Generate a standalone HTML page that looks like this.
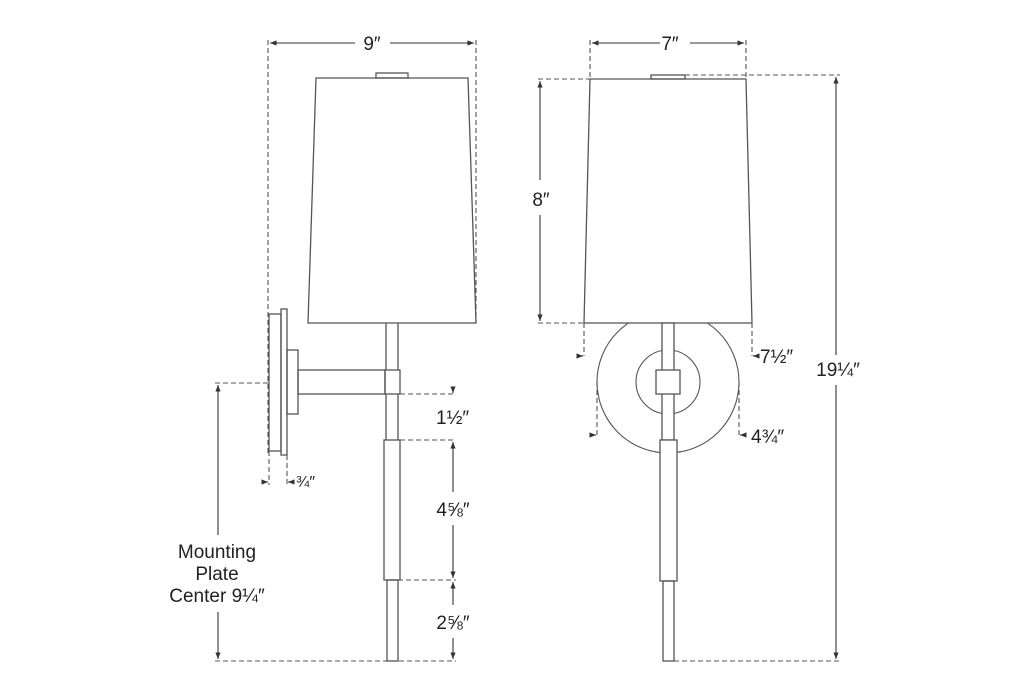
<!DOCTYPE html>
<html><head><meta charset="utf-8"><style>
html,body{margin:0;padding:0;background:#fff;}
svg{display:block;}
text{font-family:"Liberation Sans","DejaVu Sans",sans-serif;fill:#222;}
</style></head><body>
<svg width="1024" height="697" viewBox="0 0 1024 697" xmlns="http://www.w3.org/2000/svg">
<defs>
<marker id="a" viewBox="0 0 10 10" refX="10" refY="5" markerWidth="6" markerHeight="6" orient="auto-start-reverse"><path d="M0,1 L10,5 L0,9 z" fill="#333"/></marker>
</defs>
<g fill="none" stroke="#555" stroke-width="1.3">
<!-- LEFT VIEW -->
<path d="M316,78 L468,78 L476,323 L308,323 Z" fill="#fff"/>
<rect x="376" y="73" width="32" height="5"/>
<rect x="269" y="314" width="12" height="137"/>
<rect x="281" y="309" width="6" height="146"/>
<rect x="287" y="350" width="11" height="64"/>
<rect x="298" y="370" width="87" height="24"/>
<rect x="385" y="370" width="15" height="24"/>
<path d="M386,323 V370 M398,323 V370 M386,394 V440 M398,394 V440"/>
<rect x="384" y="440" width="16" height="140"/>
<rect x="387" y="580" width="11" height="81"/>
<!-- RIGHT VIEW -->
<circle cx="668" cy="382" r="71" stroke-width="1.1"/>
<circle cx="668" cy="382" r="32" stroke-width="1.1"/>
<path d="M590,79 L746,79 L752,323 L584,323 Z" fill="#fff"/>
<rect x="651" y="75" width="34" height="4"/>
<rect x="662" y="323" width="12" height="117" fill="#fff"/>
<rect x="656" y="370" width="24" height="24" fill="#fff"/>
<rect x="660" y="440" width="17" height="141" fill="#fff"/>
<rect x="663" y="581" width="11" height="80"/>
</g>
<g fill="none" stroke="#555" stroke-width="1.1" stroke-dasharray="5,3">
<path d="M268,40 V455 M476,40 V323"/>
<path d="M269,451 V485 M287,455 V485"/>
<path d="M215,383 H269"/>
<path d="M400,394 H456 M400,440 H456 M398,580 H456 M215,661 H456"/>
<path d="M590,40 V79 M746,40 V79"/>
<path d="M538,79 H590 M685,75 H840 M538,323 H584"/>
<path d="M584,323 V356 M752,323 V356"/>
<path d="M597,382 V437 M739,382 V437"/>
<path d="M674,661 H840"/>
</g>
<g stroke="#333" stroke-width="1.1" fill="none">
<line x1="270" y1="43" x2="355" y2="43" marker-start="url(#a)"/>
<line x1="390" y1="43" x2="474" y2="43" marker-end="url(#a)"/>
<line x1="592" y1="43" x2="660" y2="43" marker-start="url(#a)"/>
<line x1="690" y1="43" x2="744" y2="43" marker-end="url(#a)"/>
<line x1="540" y1="81" x2="540" y2="180" marker-start="url(#a)"/>
<line x1="540" y1="215" x2="540" y2="321" marker-end="url(#a)"/>
<line x1="836" y1="77" x2="836" y2="355" marker-start="url(#a)"/>
<line x1="836" y1="385" x2="836" y2="659" marker-end="url(#a)"/>
<line x1="218" y1="385" x2="218" y2="535" marker-start="url(#a)"/>
<line x1="218" y1="612" x2="218" y2="659" marker-end="url(#a)"/>
<line x1="453" y1="442" x2="453" y2="492" marker-start="url(#a)"/>
<line x1="453" y1="525" x2="453" y2="578" marker-end="url(#a)"/>
<line x1="453" y1="582" x2="453" y2="605" marker-start="url(#a)"/>
<line x1="453" y1="638" x2="453" y2="659" marker-end="url(#a)"/>
<line x1="453" y1="388" x2="453" y2="393" marker-end="url(#a)"/>
<line x1="262" y1="482" x2="268" y2="482" marker-end="url(#a)"/>
<line x1="294" y1="482" x2="288" y2="482" marker-end="url(#a)"/>
<line x1="578" y1="356" x2="583" y2="356" marker-end="url(#a)"/>
<line x1="758" y1="356" x2="753" y2="356" marker-end="url(#a)"/>
<line x1="591" y1="435" x2="596" y2="435" marker-end="url(#a)"/>
<line x1="745" y1="435" x2="740" y2="435" marker-end="url(#a)"/>
</g>
<g font-size="19">
<text x="372" y="50" text-anchor="middle">9″</text>
<text x="670" y="50" text-anchor="middle">7″</text>
<text x="541" y="206" text-anchor="middle">8″</text>
<text x="838" y="376" text-anchor="middle">19¼″</text>
<text x="760" y="363">7½″</text>
<text x="751" y="443">4¾″</text>
<text x="436" y="424">1½″</text>
<text x="296" y="487" font-size="16">¾″</text>
<text x="453" y="516" text-anchor="middle">4⅝″</text>
<text x="453" y="629" text-anchor="middle">2⅝″</text>
<text x="217" y="558" text-anchor="middle">Mounting</text>
<text x="217" y="580" text-anchor="middle">Plate</text>
<text x="217" y="602" text-anchor="middle">Center 9¼″</text>
</g>
</svg>
</body></html>
